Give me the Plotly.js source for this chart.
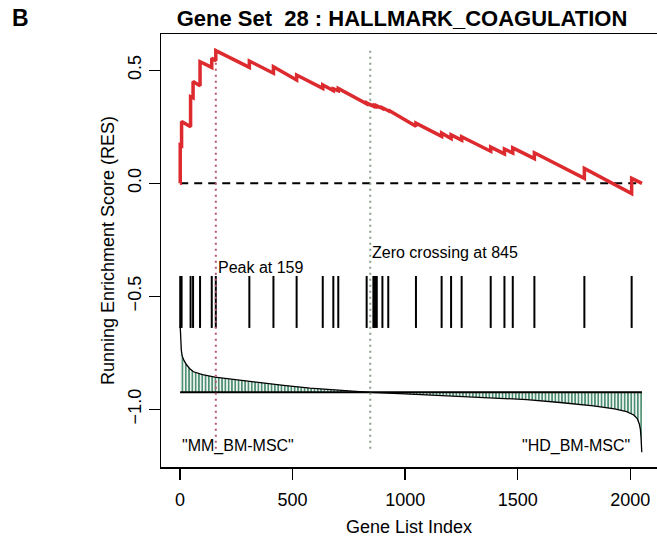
<!DOCTYPE html>
<html>
<head>
<meta charset="utf-8">
<script src="https://cdn.plot.ly/plotly-3.0.1.min.js"></script>
<style>html,body{margin:0;padding:0;background:#fff;overflow:hidden}</style>
</head>
<body>
<div id="chart" style="width:657px;height:540px"></div>
<script>
// ---------- data ----------
const geneCount = 2052;
const peakIndex = 159;
const zeroCrossIndex = 845;

// positions of gene-set members in the ranked list
const hitIndex = [1, 7, 47, 58, 89, 141, 159, 308, 415, 518, 634, 681, 703,
  829, 859, 866, 874, 899, 925, 1048, 1162, 1204, 1251, 1380, 1441, 1478,
  1574, 1796, 2006];
// running enrichment score just before and just after each hit
const esBefore = [0.000, 0.166, 0.250, 0.378, 0.432, 0.513, 0.542, 0.513,
  0.487, 0.457, 0.420, 0.410, 0.410, 0.352, 0.341, 0.341, 0.340, 0.331,
  0.321, 0.252, 0.208, 0.198, 0.191, 0.142, 0.130, 0.134, 0.109, 0.022, -0.045];
const esAfter = [0.169, 0.273, 0.383, 0.450, 0.538, 0.553, 0.587, 0.541,
  0.516, 0.479, 0.435, 0.418, 0.420, 0.356, 0.344, 0.344, 0.343, 0.334,
  0.324, 0.266, 0.222, 0.214, 0.206, 0.160, 0.152, 0.157, 0.135, 0.066, 0.022];

// ranked list metric, as drawn in the lower panel (RES axis units)
const metricIndex = [1, 3, 6, 10, 18, 30, 45, 60, 100, 155, 250, 355, 460,
  577, 700, 845, 1000, 1244, 1400, 1540, 1688, 1836, 1930, 1984, 2015, 2030,
  2040, 2045, 2048, 2051];
const metricValue = [-0.635, -0.700, -0.740, -0.765, -0.785, -0.804, -0.822,
  -0.834, -0.847, -0.858, -0.870, -0.882, -0.894, -0.906, -0.916, -0.925,
  -0.932, -0.944, -0.950, -0.957, -0.970, -0.985, -0.998, -1.010, -1.025,
  -1.040, -1.065, -1.090, -1.130, -1.190];
const metricZero = -0.925;

const xTickVals = [0, 500, 1000, 1500, 2000];
const yTickVals = [-1.0, -0.5, 0.0, 0.5];
const titleText = "Gene Set\u00a0 28 : HALLMARK_COAGULATION";
const groupLeft = '"MM_BM-MSC"';
const groupRight = '"HD_BM-MSC"';

// ---------- layout constants ----------
const W = 657, H = 540;
const M = {l: 161, r: 0, t: 34, b: 73};
const plotW = W - M.l - M.r, plotH = H - M.t - M.b;
const FONT = "Liberation Sans, Arial, Helvetica, sans-serif";
const hitTop = -0.41, hitBottom = -0.64;
const vlineTop = 0.587, vlineBottom = -1.19;
const labelY = -1.162;

// ---------- traces ----------
const esX = [0], esY = [0];
hitIndex.forEach((h, i) => { esX.push(h, h); esY.push(esBefore[i], esAfter[i]); });
esX.push(geneCount); esY.push(0);

const hx = [], hy = [];
hitIndex.forEach(h => { hx.push(h, h, null); hy.push(hitTop, hitBottom, null); });

const traces = [
  {x: [1, geneCount], y: [metricZero, metricZero], mode: 'lines',
   line: {color: 'black', width: 1.5}, hoverinfo: 'skip'},
  {x: metricIndex, y: metricValue, mode: 'lines', fill: 'tonexty',
   fillcolor: 'rgba(0,0,0,0)',
   fillpattern: {shape: '|', fgcolor: '#4f8f73', bgcolor: 'rgba(255,255,255,0)', size: 3.3, solidity: 0.55},
   line: {color: 'black', width: 1.3}, hoverinfo: 'skip'},
  {x: [1, geneCount], y: [metricZero, metricZero], mode: 'lines',
   line: {color: 'black', width: 1.6}, hoverinfo: 'skip'},
  {x: hx, y: hy, mode: 'lines', line: {color: 'black', width: 2}, hoverinfo: 'skip'},
  {x: [1, geneCount], y: [0, 0], mode: 'lines',
   line: {color: 'black', width: 2, dash: '8px,6px'}, hoverinfo: 'skip'},
  {x: [peakIndex, peakIndex], y: [vlineTop, vlineBottom], mode: 'lines',
   line: {color: '#b5576d', width: 2, dash: '2px,4px'}, hoverinfo: 'skip'},
  {x: [zeroCrossIndex, zeroCrossIndex], y: [vlineTop, vlineBottom], mode: 'lines',
   line: {color: '#8a9e8c', width: 2, dash: '2px,4px'}, hoverinfo: 'skip'},
  {x: esX, y: esY, mode: 'lines', line: {color: '#dc2a2e', width: 3.5}, hoverinfo: 'skip'}
];

const pxX = px => (px - M.l) / plotW;
const pxY = py => (H - M.b - py) / plotH;

const layout = {
  width: W, height: H, margin: M, showlegend: false,
  paper_bgcolor: 'white', plot_bgcolor: 'white',
  font: {family: FONT, color: 'black', size: 18},
  title: {text: '<b>' + titleText + '</b>', font: {family: FONT, size: 22, color: 'black'},
          xref: 'container', x: 402 / W, xanchor: 'center', yref: 'container', y: 1 - 18 / H, yanchor: 'middle'},
  xaxis: {range: [-(180 - M.l) / 0.22515, (W - 180) / 0.22515], tickvals: xTickVals,
          ticks: 'outside', ticklen: 11, tickwidth: 1.5, tickcolor: 'black',
          showline: true, linewidth: 1.5, linecolor: 'black', mirror: true,
          showgrid: false, zeroline: false, tickfont: {size: 18}, ticklabelstandoff: 5,
          title: {text: 'Gene List Index', font: {size: 18}, standoff: 11}},
  yaxis: {range: [-1.2553, 0.6606], tickvals: yTickVals, tickformat: '.1f', tickangle: -90,
          ticks: 'outside', ticklen: 11, tickwidth: 1.5, tickcolor: 'black',
          showline: true, linewidth: 1.5, linecolor: 'black',
          showgrid: false, zeroline: false, tickfont: {size: 18},
          title: {text: 'Running Enrichment Score (RES)', font: {size: 18}, standoff: 6}},
  annotations: [
    {text: '<b>B</b>', xref: 'paper', yref: 'paper', x: pxX(10), y: pxY(18), xanchor: 'left', yanchor: 'middle',
     showarrow: false, font: {size: 23, family: FONT}},
    {text: 'Peak at ' + peakIndex, x: peakIndex, y: -0.373, xanchor: 'left', yanchor: 'middle',
     showarrow: false, font: {size: 16}},
    {text: 'Zero crossing at ' + zeroCrossIndex, x: zeroCrossIndex, y: -0.305, xanchor: 'left', yanchor: 'middle',
     showarrow: false, font: {size: 16}},
    {text: groupLeft, x: 1, y: labelY, xanchor: 'left', yanchor: 'middle', showarrow: false, font: {size: 16}},
    {text: groupRight, x: hitIndex[hitIndex.length - 1], y: labelY, xanchor: 'right', yanchor: 'middle', showarrow: false, font: {size: 16}}
  ]
};

Plotly.newPlot('chart', traces, layout, {staticPlot: true, displayModeBar: false});
</script>
</body>
</html>
